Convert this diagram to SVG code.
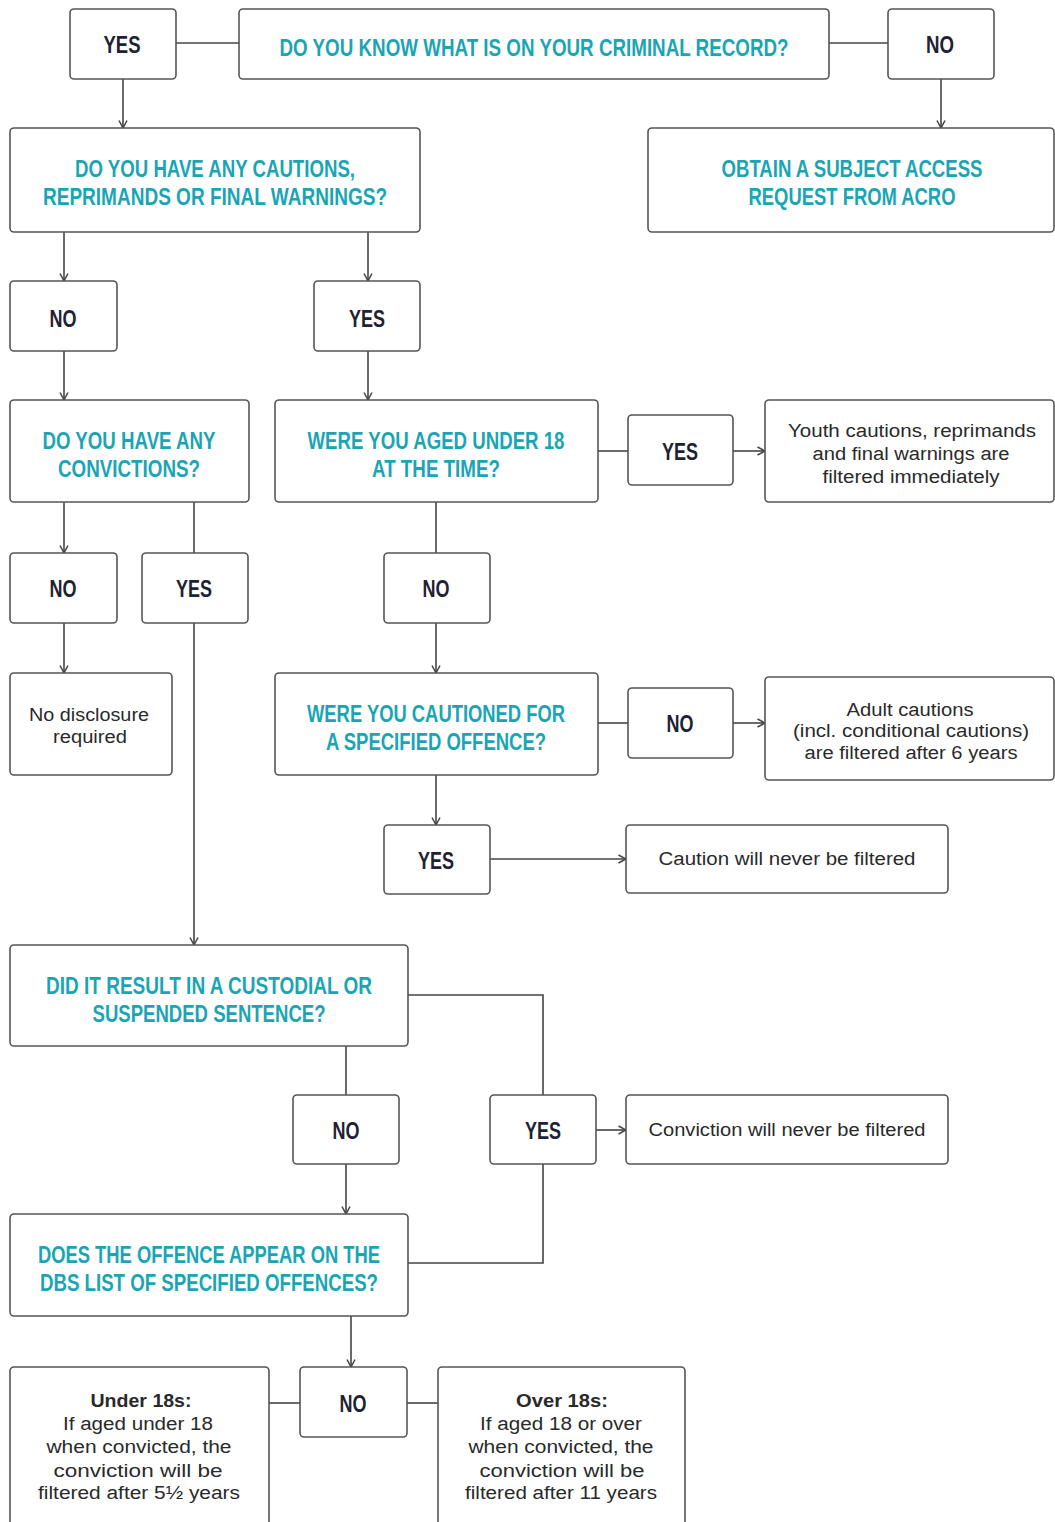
<svg xmlns="http://www.w3.org/2000/svg" width="1055" height="1522" viewBox="0 0 1055 1522">
<style>
.box{fill:#fff;stroke:#555;stroke-width:1.6}
.q{font-family:"Liberation Sans",Arial,sans-serif;font-weight:bold;font-size:23px;fill:#1aa5b5;text-anchor:middle}
.yn{font-family:"Liberation Sans",Arial,sans-serif;font-weight:bold;font-size:23px;fill:#1e2233;text-anchor:middle}
.t{font-family:"Liberation Sans",Arial,sans-serif;font-size:18px;fill:#2a2a2a;text-anchor:middle}
.tb{font-weight:bold}
.c{fill:none;stroke:#444;stroke-width:1.6}
.a{marker-end:url(#arr)}
</style>
<defs>
<marker id="arr" viewBox="0 0 10 10" refX="9.5" refY="5" markerWidth="10" markerHeight="10" markerUnits="userSpaceOnUse" orient="auto">
<path d="M2,1 L9.5,5 L2,9" fill="none" stroke="#444" stroke-width="1.5"/>
</marker>
</defs>
<rect width="1055" height="1522" fill="#fff"/>
<g id="connectors">
<path class="c" d="M176,43 H239"/>
<path class="c" d="M829,43 H888"/>
<path class="c a" d="M123,79 V128"/>
<path class="c a" d="M941,79 V128"/>
<path class="c a" d="M64,232 V281"/>
<path class="c a" d="M368,232 V281"/>
<path class="c a" d="M64,351 V400"/>
<path class="c a" d="M368,351 V400"/>
<path class="c" d="M598,451 H628"/>
<path class="c a" d="M733,451 H765"/>
<path class="c a" d="M64,502 V553"/>
<path class="c" d="M194,502 V553"/>
<path class="c" d="M436,502 V553"/>
<path class="c a" d="M64,623 V673"/>
<path class="c a" d="M436,623 V673"/>
<path class="c a" d="M194,623 V945"/>
<path class="c" d="M598,723 H628"/>
<path class="c a" d="M733,723 H765"/>
<path class="c a" d="M436,775 V825"/>
<path class="c a" d="M490,859 H626"/>
<path class="c" d="M408,995 H543 V1095"/>
<path class="c" d="M346,1046 V1095"/>
<path class="c a" d="M596,1130 H626"/>
<path class="c" d="M543,1164 V1263 H408"/>
<path class="c a" d="M346,1164 V1214"/>
<path class="c a" d="M351,1316 V1367"/>
<path class="c" d="M269,1403 H300"/>
<path class="c" d="M407,1403 H438"/>
</g>
<g id="yes1"><rect class="box" x="70" y="9" width="106" height="70" rx="4"/><text class="yn" x="122" y="53" textLength="37" lengthAdjust="spacingAndGlyphs">YES</text></g>
<g id="q1"><rect class="box" x="239" y="9" width="590" height="70" rx="4"/><text class="q" x="534" y="56" textLength="509" lengthAdjust="spacingAndGlyphs">DO YOU KNOW WHAT IS ON YOUR CRIMINAL RECORD?</text></g>
<g id="no1"><rect class="box" x="888" y="9" width="106" height="70" rx="4"/><text class="yn" x="940" y="53" textLength="28" lengthAdjust="spacingAndGlyphs">NO</text></g>
<g id="q2"><rect class="box" x="10" y="128" width="410" height="104" rx="4"/><text class="q" x="215" y="177" textLength="280" lengthAdjust="spacingAndGlyphs">DO YOU HAVE ANY CAUTIONS,</text><text class="q" x="215" y="205" textLength="344" lengthAdjust="spacingAndGlyphs">REPRIMANDS OR FINAL WARNINGS?</text></g>
<g id="acro"><rect class="box" x="648" y="128" width="406" height="104" rx="4"/><text class="q" x="852" y="177" textLength="261" lengthAdjust="spacingAndGlyphs">OBTAIN A SUBJECT ACCESS</text><text class="q" x="852" y="205" textLength="207" lengthAdjust="spacingAndGlyphs">REQUEST FROM ACRO</text></g>
<g id="no2"><rect class="box" x="10" y="281" width="107" height="70" rx="4"/><text class="yn" x="63" y="327" textLength="27" lengthAdjust="spacingAndGlyphs">NO</text></g>
<g id="yes2"><rect class="box" x="314" y="281" width="106" height="70" rx="4"/><text class="yn" x="367" y="327" textLength="36" lengthAdjust="spacingAndGlyphs">YES</text></g>
<g id="q3"><rect class="box" x="10" y="400" width="239" height="102" rx="4"/><text class="q" x="129" y="449" textLength="173" lengthAdjust="spacingAndGlyphs">DO YOU HAVE ANY</text><text class="q" x="129" y="477" textLength="142" lengthAdjust="spacingAndGlyphs">CONVICTIONS?</text></g>
<g id="q4"><rect class="box" x="275" y="400" width="323" height="102" rx="4"/><text class="q" x="436" y="449" textLength="257" lengthAdjust="spacingAndGlyphs">WERE YOU AGED UNDER 18</text><text class="q" x="436" y="477" textLength="128" lengthAdjust="spacingAndGlyphs">AT THE TIME?</text></g>
<g id="yes3"><rect class="box" x="628" y="415" width="105" height="70" rx="4"/><text class="yn" x="680" y="460" textLength="36" lengthAdjust="spacingAndGlyphs">YES</text></g>
<g id="youth"><rect class="box" x="765" y="400" width="289" height="102" rx="4"/><text class="t" x="912" y="437" textLength="248" lengthAdjust="spacingAndGlyphs">Youth cautions, reprimands</text><text class="t" x="911" y="460" textLength="197" lengthAdjust="spacingAndGlyphs">and final warnings are</text><text class="t" x="911" y="483" textLength="177" lengthAdjust="spacingAndGlyphs">filtered immediately</text></g>
<g id="no3"><rect class="box" x="10" y="553" width="107" height="70" rx="4"/><text class="yn" x="63" y="597" textLength="27" lengthAdjust="spacingAndGlyphs">NO</text></g>
<g id="yes4"><rect class="box" x="142" y="553" width="106" height="70" rx="4"/><text class="yn" x="194" y="597" textLength="36" lengthAdjust="spacingAndGlyphs">YES</text></g>
<g id="no4"><rect class="box" x="384" y="553" width="106" height="70" rx="4"/><text class="yn" x="436" y="597" textLength="27" lengthAdjust="spacingAndGlyphs">NO</text></g>
<g id="nodisc"><rect class="box" x="10" y="673" width="162" height="102" rx="4"/><text class="t" x="89" y="721" textLength="120" lengthAdjust="spacingAndGlyphs">No disclosure</text><text class="t" x="90" y="743" textLength="74" lengthAdjust="spacingAndGlyphs">required</text></g>
<g id="q5"><rect class="box" x="275" y="673" width="323" height="102" rx="4"/><text class="q" x="436" y="722" textLength="258" lengthAdjust="spacingAndGlyphs">WERE YOU CAUTIONED FOR</text><text class="q" x="436" y="750" textLength="220" lengthAdjust="spacingAndGlyphs">A SPECIFIED OFFENCE?</text></g>
<g id="no5"><rect class="box" x="628" y="688" width="105" height="70" rx="4"/><text class="yn" x="680" y="732" textLength="27" lengthAdjust="spacingAndGlyphs">NO</text></g>
<g id="adult"><rect class="box" x="765" y="677" width="289" height="103" rx="4"/><text class="t" x="910" y="716" textLength="127" lengthAdjust="spacingAndGlyphs">Adult cautions</text><text class="t" x="911" y="737" textLength="236" lengthAdjust="spacingAndGlyphs">(incl. conditional cautions)</text><text class="t" x="911" y="759" textLength="213" lengthAdjust="spacingAndGlyphs">are filtered after 6 years</text></g>
<g id="yes5"><rect class="box" x="384" y="825" width="106" height="69" rx="4"/><text class="yn" x="436" y="869" textLength="36" lengthAdjust="spacingAndGlyphs">YES</text></g>
<g id="caution-never"><rect class="box" x="626" y="825" width="322" height="68" rx="4"/><text class="t" x="787" y="865" textLength="257" lengthAdjust="spacingAndGlyphs">Caution will never be filtered</text></g>
<g id="q6"><rect class="box" x="10" y="945" width="398" height="101" rx="4"/><text class="q" x="209" y="994" textLength="326" lengthAdjust="spacingAndGlyphs">DID IT RESULT IN A CUSTODIAL OR</text><text class="q" x="209" y="1022" textLength="233" lengthAdjust="spacingAndGlyphs">SUSPENDED SENTENCE?</text></g>
<g id="no6"><rect class="box" x="293" y="1095" width="106" height="69" rx="4"/><text class="yn" x="346" y="1139" textLength="27" lengthAdjust="spacingAndGlyphs">NO</text></g>
<g id="yes6"><rect class="box" x="490" y="1095" width="106" height="69" rx="4"/><text class="yn" x="543" y="1139" textLength="36" lengthAdjust="spacingAndGlyphs">YES</text></g>
<g id="conviction-never"><rect class="box" x="626" y="1095" width="322" height="69" rx="4"/><text class="t" x="787" y="1136" textLength="277" lengthAdjust="spacingAndGlyphs">Conviction will never be filtered</text></g>
<g id="q7"><rect class="box" x="10" y="1214" width="398" height="102" rx="4"/><text class="q" x="209" y="1263" textLength="342" lengthAdjust="spacingAndGlyphs">DOES THE OFFENCE APPEAR ON THE</text><text class="q" x="209" y="1291" textLength="338" lengthAdjust="spacingAndGlyphs">DBS LIST OF SPECIFIED OFFENCES?</text></g>
<g id="no7"><rect class="box" x="300" y="1367" width="107" height="70" rx="4"/><text class="yn" x="353" y="1412" textLength="27" lengthAdjust="spacingAndGlyphs">NO</text></g>
<g id="under18"><rect class="box" x="10" y="1367" width="259" height="170" rx="4"/><text class="t tb" x="141" y="1407" textLength="101" lengthAdjust="spacingAndGlyphs">Under 18s:</text><text class="t" x="138" y="1430" textLength="150" lengthAdjust="spacingAndGlyphs">If aged under 18</text><text class="t" x="139" y="1453" textLength="185" lengthAdjust="spacingAndGlyphs">when convicted, the</text><text class="t" x="138" y="1477" textLength="169" lengthAdjust="spacingAndGlyphs">conviction will be</text><text class="t" x="139" y="1499" textLength="202" lengthAdjust="spacingAndGlyphs">filtered after 5½ years</text></g>
<g id="over18"><rect class="box" x="438" y="1367" width="247" height="170" rx="4"/><text class="t tb" x="562" y="1407" textLength="92" lengthAdjust="spacingAndGlyphs">Over 18s:</text><text class="t" x="561" y="1430" textLength="162" lengthAdjust="spacingAndGlyphs">If aged 18 or over</text><text class="t" x="561" y="1453" textLength="185" lengthAdjust="spacingAndGlyphs">when convicted, the</text><text class="t" x="562" y="1477" textLength="165" lengthAdjust="spacingAndGlyphs">conviction will be</text><text class="t" x="561" y="1499" textLength="192" lengthAdjust="spacingAndGlyphs">filtered after 11 years</text></g>
</svg>
